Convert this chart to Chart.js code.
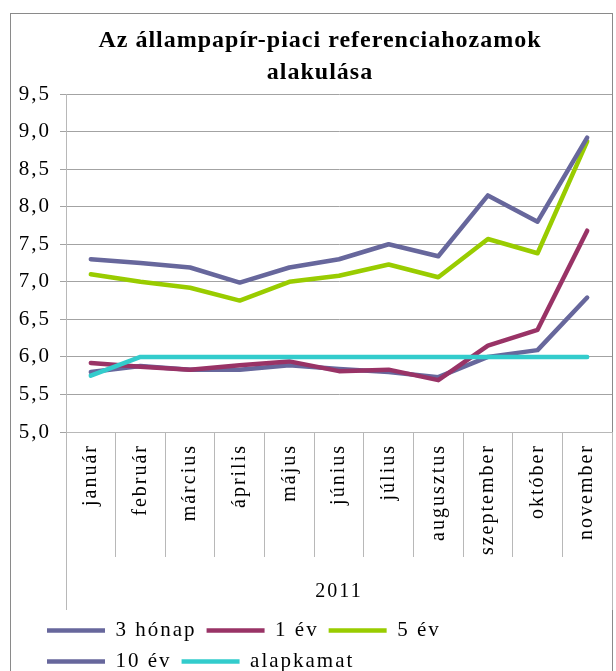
<!DOCTYPE html>
<html>
<head>
<meta charset="utf-8">
<script src="https://cdn.jsdelivr.net/npm/chart.js@4/dist/chart.umd.min.js"></script>
<style>
  html, body { margin: 0; padding: 0; background: #ffffff; }
  canvas { display: block; }
</style>
</head>
<body>
<canvas id="chart" width="616" height="671"></canvas>
<script>
// ---- data ----
const titleLines = ['Az állampapír-piaci referenciahozamok', 'alakulása'];
const axisTitle = '2011';
const months = ['január', 'február', 'március', 'április', 'május', 'június',
                'július', 'augusztus', 'szeptember', 'október', 'november'];
const seriesNames = ['3 hónap', '1 év', '5 év', '10 év', 'alapkamat'];
const threeMonth = [5.80, 5.88, 5.83, 5.83, 5.89, 5.84, 5.80, 5.73, 6.00, 6.09, 6.79];
const oneYear    = [5.92, 5.87, 5.83, 5.89, 5.94, 5.81, 5.83, 5.69, 6.15, 6.36, 7.68];
const fiveYear   = [7.10, 7.00, 6.92, 6.75, 7.00, 7.08, 7.23, 7.06, 7.57, 7.38, 8.87];
const tenYear    = [7.30, 7.25, 7.19, 6.99, 7.19, 7.30, 7.50, 7.34, 8.15, 7.80, 8.92];
const baseRate   = [5.75, 6.00, 6.00, 6.00, 6.00, 6.00, 6.00, 6.00, 6.00, 6.00, 6.00];
const yMin = 5.0;
const yMax = 9.5;
const yStep = 0.5;

// ---- styles ----
const seriesColors = ['#67679c', '#993366', '#99cc00', '#67679c', '#33cccc'];
const gridColor = '#a3a3a3';
const axisColor = '#b8b8b8';
const FONT = 'Liberation Serif';

Chart.defaults.font.family = FONT;
Chart.defaults.color = '#000000';

const seriesData = [threeMonth, oneYear, fiveYear, tenYear, baseRate];

const spacingPlugin = {
  id: 'spacing',
  beforeUpdate(chart) { chart.ctx.letterSpacing = '2px'; },
  beforeDraw(chart) { chart.ctx.letterSpacing = '2px'; }
};

const framePlugin = {
  id: 'frame',
  beforeDraw(chart) {
    const c = chart.ctx;
    c.save();
    c.fillStyle = '#ffffff';
    c.fillRect(0, 0, chart.width, chart.height);
    c.strokeStyle = '#8a8a8a';
    c.lineWidth = 1;
    c.strokeRect(10.5, 13.5, 602, 700);
    c.restore();
  }
};

const categoryFramePlugin = {
  id: 'categoryFrame',
  afterDraw(chart) {
    const x = chart.scales.x;
    const c = chart.ctx;
    c.save();
    c.strokeStyle = axisColor;
    c.lineWidth = 1;
    [x.left, x.right].forEach(px => {
      const p = Math.round(px) + 0.5;
      c.beginPath();
      c.moveTo(p, x.top);
      c.lineTo(p, x.bottom);
      c.stroke();
    });
    c.restore();
  }
};

// positions the title over the plot column and wraps the legend into rows of three
const boxTweakPlugin = {
  id: 'boxTweak',
  afterLayout(chart) {
    const lg = chart.legend;
    if (lg) { lg.left = 37; lg.right = 537; }
    const tb = chart.titleBlock;
    if (tb) {
      tb.left = 28; tb.right = 612;
      if (!tb._spacingWrapped) {
        const orig = tb.draw.bind(tb);
        tb.draw = function (area) {
          const c = chart.ctx;
          const prev = c.letterSpacing;
          c.letterSpacing = '1px';
          orig(area);
          c.letterSpacing = prev;
        };
        tb._spacingWrapped = true;
      }
    }
  }
};

const datasets = seriesNames.map((name, i) => ({
  label: name,
  data: seriesData[i],
  borderColor: seriesColors[i],
  backgroundColor: seriesColors[i],
  borderWidth: 4.5,
  borderCapStyle: 'round',
  borderJoinStyle: 'round',
  pointRadius: 0,
  pointHoverRadius: 0,
  tension: 0,
  fill: false,
  order: seriesNames.length - 1 - i
}));

new Chart(document.getElementById('chart'), {
  type: 'line',
  data: { labels: months, datasets: datasets },
  plugins: [spacingPlugin, framePlugin, categoryFramePlugin, boxTweakPlugin],
  options: {
    responsive: false,
    animation: false,
    devicePixelRatio: 1,
    layout: { padding: { left: 11, right: 4, top: 0, bottom: -11 } },
    plugins: {
      title: {
        display: true,
        text: titleLines,
        color: '#000000',
        font: { family: FONT, size: 24, weight: 'bold', lineHeight: 32 / 24 },
        padding: { top: 25, bottom: 5 }
      },
      legend: {
        display: true,
        position: 'bottom',
        align: 'start',
        labels: {
          usePointStyle: true,
          pointStyle: 'line',
          pointStyleWidth: 58,
          padding: 10,
          color: '#000000',
          font: { family: FONT, size: 21 },
          sort: (a, b) => a.datasetIndex - b.datasetIndex
        }
      },
      tooltip: { enabled: false }
    },
    scales: {
      x: {
        type: 'category',
        offset: true,
        grid: {
          display: true,
          offset: true,
          drawOnChartArea: false,
          drawTicks: true,
          tickLength: 125,
          color: axisColor
        },
        border: { display: true, color: axisColor },
        ticks: {
          autoSkip: false,
          minRotation: 90,
          maxRotation: 90,
          padding: -113,
          color: '#000000',
          font: { family: FONT, size: 20 }
        },
        title: {
          display: true,
          text: axisTitle,
          color: '#000000',
          font: { family: FONT, size: 20 },
          padding: { top: 25, bottom: 6 }
        },
        afterFit(scale) { scale.height = 178; }
      },
      y: {
        min: yMin,
        max: yMax,
        grid: { color: gridColor, tickLength: 6, drawTicks: true },
        border: { display: true, color: axisColor },
        ticks: {
          stepSize: yStep,
          padding: 9,
          color: '#000000',
          font: { family: FONT, size: 21 },
          callback: (v) => Number(v).toFixed(1).replace('.', ',')
        },
        afterFit(scale) { scale.width = 55; }
      }
    }
  }
});
</script>
</body>
</html>
